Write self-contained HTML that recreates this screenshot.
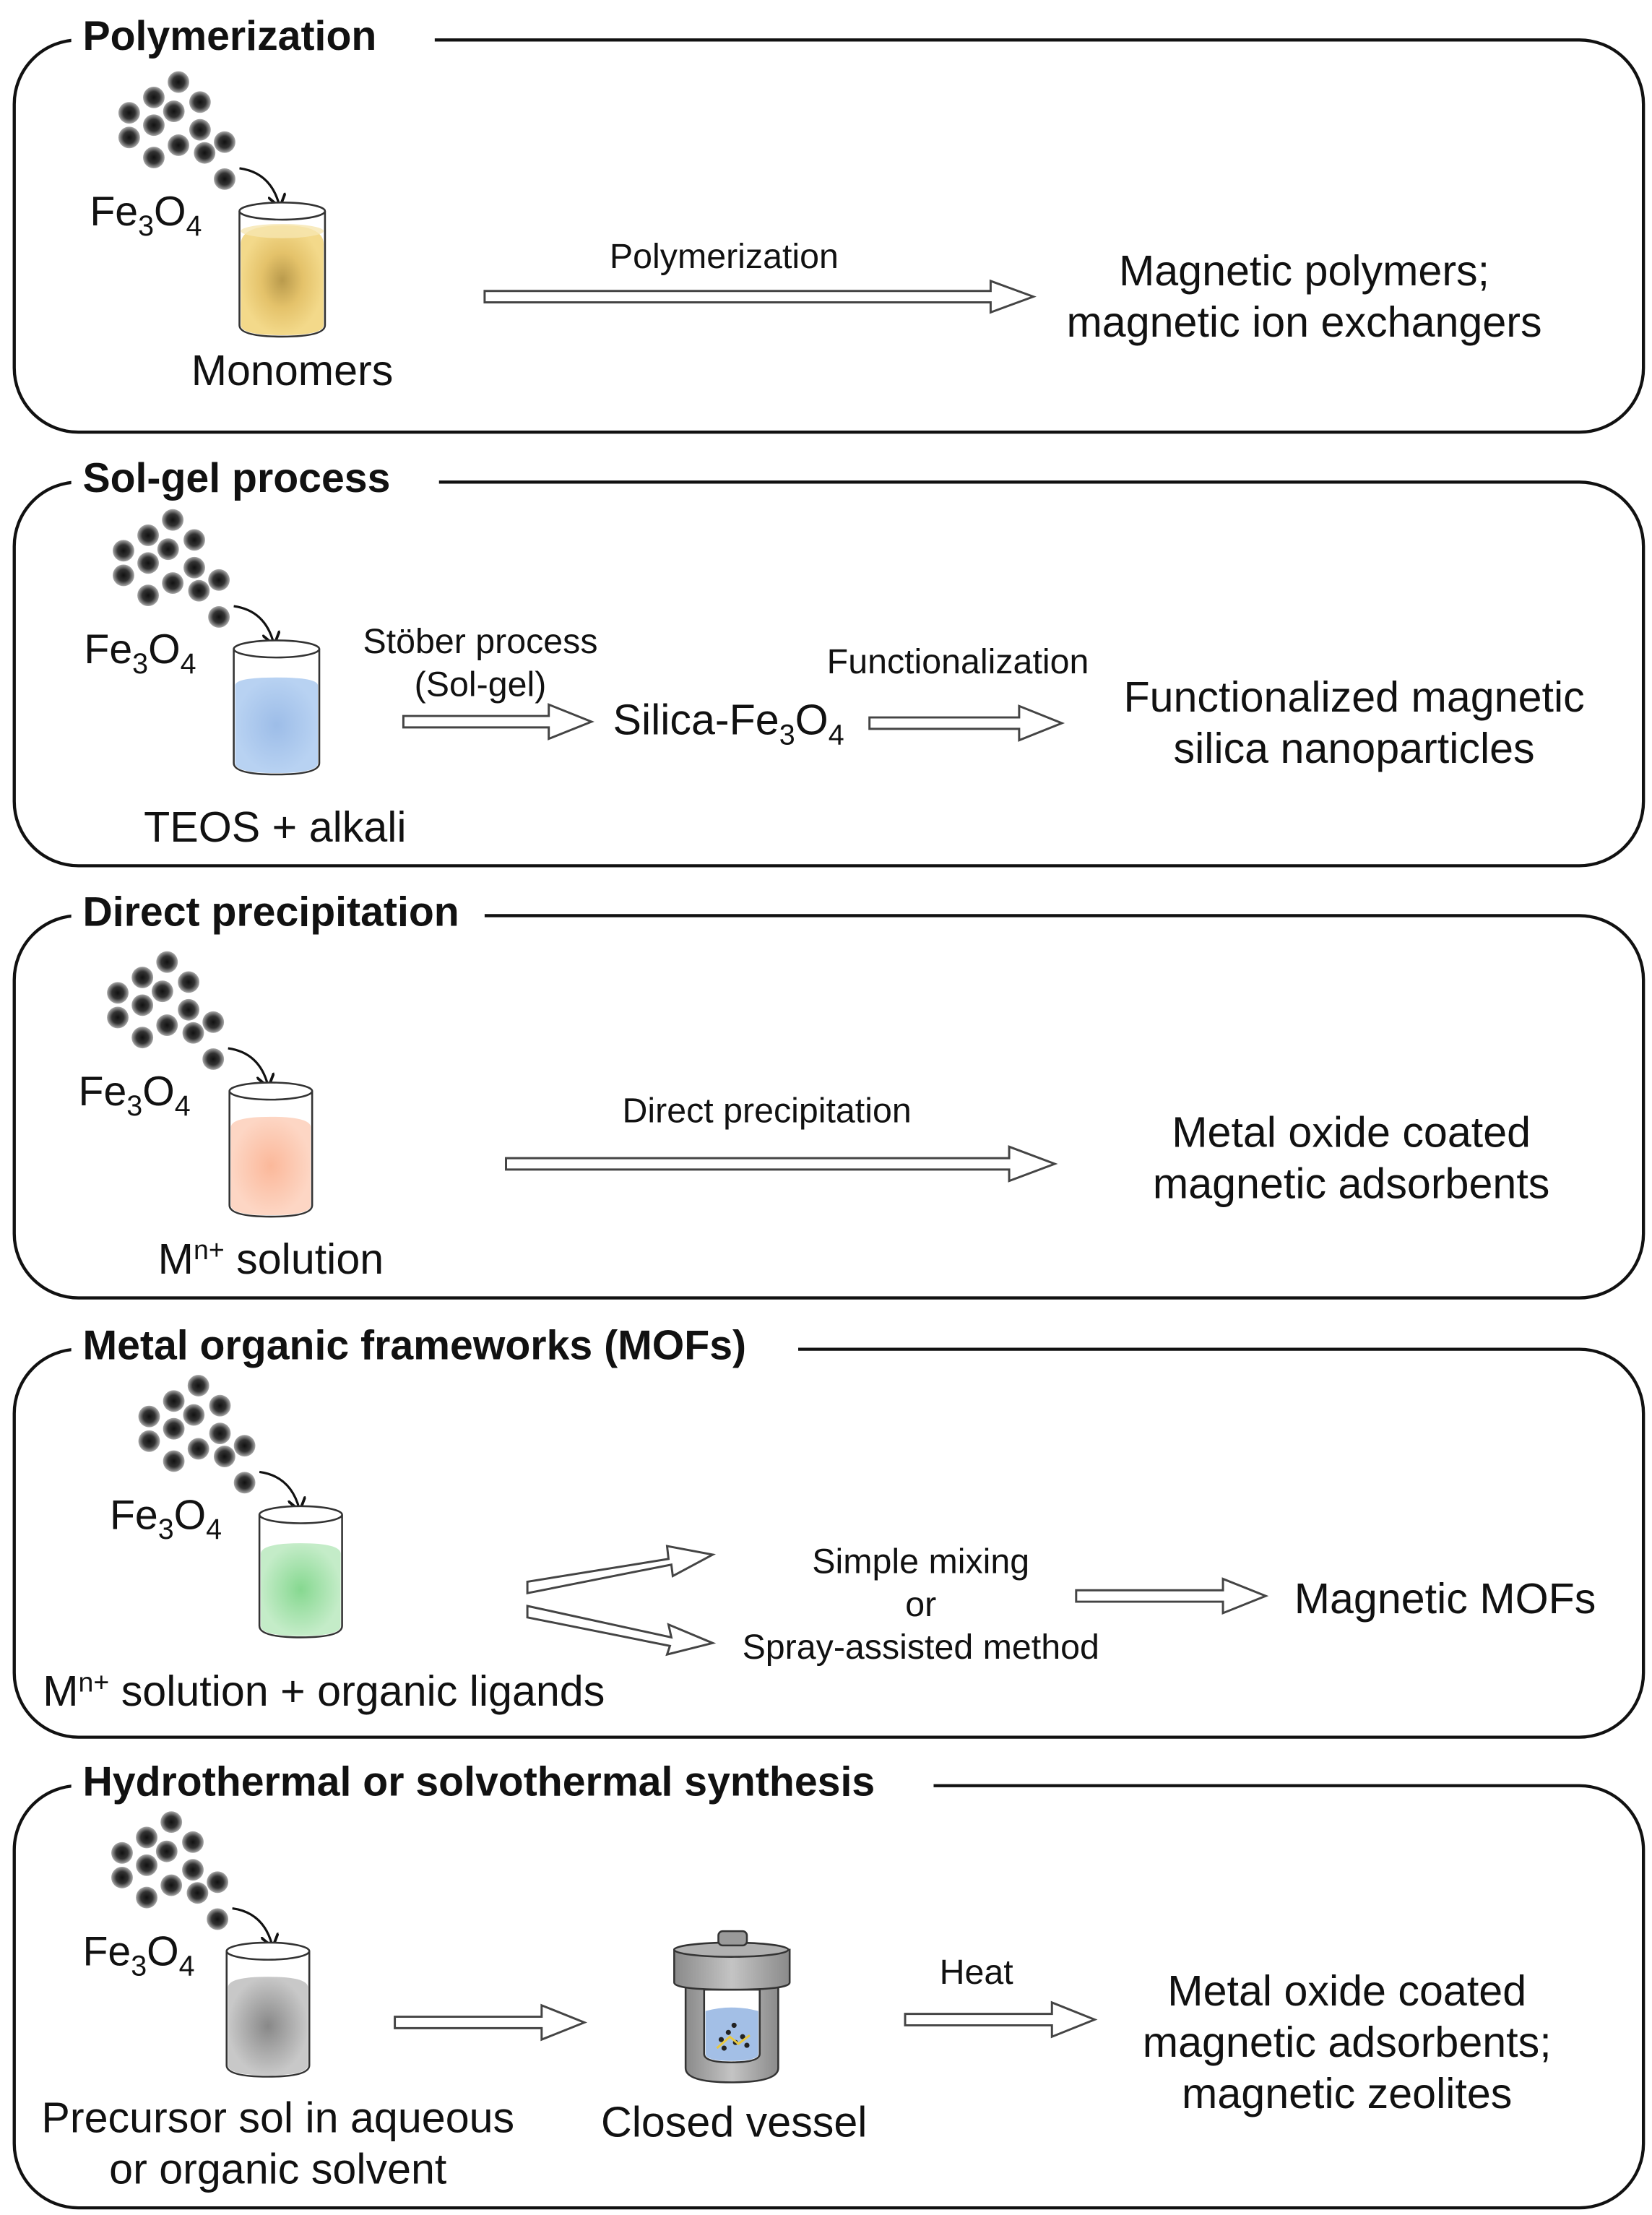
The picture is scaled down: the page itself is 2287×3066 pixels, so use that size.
<!DOCTYPE html>
<html><head><meta charset="utf-8"><style>
html,body{margin:0;padding:0;background:#fff;}
svg{display:block;}
text{font-family:"Liberation Sans",Arial,sans-serif;fill:#111;}
.t{font-weight:bold;font-size:29px;}
.l{font-size:30px;}
.s{font-size:24.5px;}
</style></head><body>
<svg width="2287" height="3066" viewBox="0 0 1159 1553" preserveAspectRatio="none" xmlns="http://www.w3.org/2000/svg">
<defs>
<radialGradient id="dot"><stop offset="0" stop-color="#111"/><stop offset="0.55" stop-color="#333"/><stop offset="1" stop-color="#aaa"/></radialGradient>
<radialGradient id="gy"><stop offset="0" stop-color="#b99a4c"/><stop offset="0.5" stop-color="#e4c26a"/><stop offset="1" stop-color="#f3d98a"/></radialGradient>
<radialGradient id="gb"><stop offset="0" stop-color="#9dbde8"/><stop offset="1" stop-color="#b8d2f2"/></radialGradient>
<radialGradient id="gp"><stop offset="0" stop-color="#fbb89a"/><stop offset="1" stop-color="#fdd6c4"/></radialGradient>
<radialGradient id="gg"><stop offset="0" stop-color="#86d890"/><stop offset="1" stop-color="#c4ecc8"/></radialGradient>
<radialGradient id="gk"><stop offset="0" stop-color="#888"/><stop offset="1" stop-color="#c8c8c8"/></radialGradient>
<linearGradient id="met" x1="0" x2="1"><stop offset="0" stop-color="#8a8a8a"/><stop offset="0.5" stop-color="#c4c4c4"/><stop offset="1" stop-color="#8a8a8a"/></linearGradient>
<marker id="ah" viewBox="0 0 10 10" refX="6" refY="5" markerWidth="8" markerHeight="8" orient="auto"><path d="M0,0 L7,5 L0,10" fill="none" stroke="#111" stroke-width="1.5"/></marker>
<g id="dots">
<g transform="translate(100,-30) scale(1.08) translate(-100,30)">
<circle cx="65" cy="-86" r="7" fill="url(#dot)"/><circle cx="49" cy="-76" r="7" fill="url(#dot)"/><circle cx="79" cy="-73" r="7" fill="url(#dot)"/>
<circle cx="33" cy="-66" r="7" fill="url(#dot)"/><circle cx="62" cy="-67" r="7" fill="url(#dot)"/><circle cx="49" cy="-58" r="7" fill="url(#dot)"/>
<circle cx="79" cy="-55" r="7" fill="url(#dot)"/><circle cx="33" cy="-50" r="7" fill="url(#dot)"/><circle cx="95" cy="-47" r="7" fill="url(#dot)"/>
<circle cx="65" cy="-45" r="7" fill="url(#dot)"/><circle cx="49" cy="-37" r="7" fill="url(#dot)"/><circle cx="82" cy="-40" r="7" fill="url(#dot)"/>
<circle cx="95" cy="-23" r="7" fill="url(#dot)"/>
</g>
<path d="M105,-30 Q127,-27 133,-4" fill="none" stroke="#111" stroke-width="1.6" marker-end="url(#ah)"/>
<text x="0" y="10" style="font-size:29px">Fe<tspan dy="7" style="font-size:20px">3</tspan><tspan dy="-7">O</tspan><tspan dy="7" style="font-size:20px">4</tspan></text>
</g>
</defs>

<g fill="none" stroke="#111" stroke-width="2.2">
<rect x="10" y="28" width="1143" height="275" rx="45"/>
<rect x="10" y="338" width="1143" height="269" rx="45"/>
<rect x="10" y="642" width="1143" height="268" rx="45"/>
<rect x="10" y="946" width="1143" height="272" rx="45"/>
<rect x="10" y="1252" width="1143" height="296" rx="45"/>
</g>
<g fill="#fff">
<rect x="50" y="10" width="255" height="30"/>
<rect x="50" y="320" width="258" height="30"/>
<rect x="50" y="624" width="290" height="30"/>
<rect x="50" y="928" width="510" height="30"/>
<rect x="50" y="1234" width="605" height="30"/>
</g>
<text class="t" x="58" y="35">Polymerization</text>
<text class="t" x="58" y="345">Sol-gel process</text>
<text class="t" x="58" y="649">Direct precipitation</text>
<text class="t" x="58" y="953">Metal organic frameworks (MOFs)</text>
<text class="t" x="58" y="1259">Hydrothermal or solvothermal synthesis</text>

<!-- Panel 1 -->
<use href="#dots" x="63" y="148"/>
<g transform="translate(168,148)">
<path d="M1,24 Q0,10 30,10 Q60,10 59,24 L59,80 Q59,87 30,87 Q1,87 1,80 Z" fill="url(#gy)"/>
<ellipse cx="30" cy="14" rx="29" ry="5" fill="#f6e6b0" opacity="0.8"/>
<path d="M0,0 L0,80 Q0,88 30,88 Q60,88 60,80 L60,0" fill="none" stroke="#333" stroke-width="1.3"/>
<ellipse cx="30" cy="0" rx="30" ry="6" fill="#fff" stroke="#333" stroke-width="1.3"/>
</g>
<text class="l" x="205" y="270" text-anchor="middle">Monomers</text>
<text class="s" x="508" y="188" text-anchor="middle">Polymerization</text>
<polygon points="340,204 695,204 695,197 725,208 695,219 695,212 340,212" fill="#fff" stroke="#444" stroke-width="1.5"/>
<text class="l" x="915" y="200" text-anchor="middle">Magnetic polymers;</text>
<text class="l" x="915" y="236" text-anchor="middle">magnetic ion exchangers</text>

<!-- Panel 2 -->
<use href="#dots" x="59" y="455"/>
<g transform="translate(164,455)">
<path d="M1,26 Q0,20 30,20 Q60,20 59,26 L59,80 Q59,87 30,87 Q1,87 1,80 Z" fill="url(#gb)"/>
<path d="M0,0 L0,80 Q0,88 30,88 Q60,88 60,80 L60,0" fill="none" stroke="#333" stroke-width="1.3"/>
<ellipse cx="30" cy="0" rx="30" ry="6" fill="#fff" stroke="#333" stroke-width="1.3"/>
</g>
<text class="l" x="193" y="590" text-anchor="middle">TEOS + alkali</text>
<text class="s" x="337" y="458" text-anchor="middle">Stöber process</text>
<text class="s" x="337" y="488" text-anchor="middle">(Sol-gel)</text>
<polygon points="283,502 385,502 385,494 415,506 385,518 385,510 283,510" fill="#fff" stroke="#444" stroke-width="1.5"/>
<text x="430" y="515" style="font-size:30px">Silica-Fe<tspan dy="7" style="font-size:20px">3</tspan><tspan dy="-7">O</tspan><tspan dy="7" style="font-size:20px">4</tspan></text>
<text class="s" x="672" y="472" text-anchor="middle">Functionalization</text>
<polygon points="610,503 715,503 715,495 745,507 715,519 715,511 610,511" fill="#fff" stroke="#444" stroke-width="1.5"/>
<text class="l" x="950" y="499" text-anchor="middle">Functionalized magnetic</text>
<text class="l" x="950" y="535" text-anchor="middle">silica nanoparticles</text>

<!-- Panel 3 -->
<use href="#dots" x="55" y="765"/>
<g transform="translate(161,765)">
<path d="M1,26 Q0,18 29,18 Q58,18 57,26 L57,80 Q57,87 29,87 Q1,87 1,80 Z" fill="url(#gp)"/>
<path d="M0,0 L0,80 Q0,88 29,88 Q58,88 58,80 L58,0" fill="none" stroke="#333" stroke-width="1.3"/>
<ellipse cx="29" cy="0" rx="29" ry="6" fill="#fff" stroke="#333" stroke-width="1.3"/>
</g>
<text class="l" x="190" y="893" text-anchor="middle">M<tspan dy="-10" style="font-size:19px">n+</tspan><tspan dy="10"> solution</tspan></text>
<text class="s" x="538" y="787" text-anchor="middle">Direct precipitation</text>
<polygon points="355,812 708,812 708,804 740,816 708,828 708,820 355,820" fill="#fff" stroke="#444" stroke-width="1.5"/>
<text class="l" x="948" y="804" text-anchor="middle">Metal oxide coated</text>
<text class="l" x="948" y="840" text-anchor="middle">magnetic adsorbents</text>

<!-- Panel 4 -->
<use href="#dots" x="77" y="1062"/>
<g transform="translate(182,1062)">
<path d="M1,28 Q0,20 29,20 Q58,20 57,28 L57,78 Q57,85 29,85 Q1,85 1,78 Z" fill="url(#gg)"/>
<path d="M0,0 L0,78 Q0,86 29,86 Q58,86 58,78 L58,0" fill="none" stroke="#333" stroke-width="1.3"/>
<ellipse cx="29" cy="0" rx="29" ry="6" fill="#fff" stroke="#333" stroke-width="1.3"/>
</g>
<text class="l" x="30" y="1196">M<tspan dy="-10" style="font-size:19px">n+</tspan><tspan dy="10"> solution + organic ligands</tspan></text>
<polygon points="370,1109 469,1093 468,1084 500,1090 472,1105 471,1097 370,1117" fill="#fff" stroke="#444" stroke-width="1.5"/>
<polygon points="370,1126 471,1148 469,1139 500,1152 468,1160 470,1154 370,1134" fill="#fff" stroke="#444" stroke-width="1.5"/>
<text class="s" x="646" y="1103" text-anchor="middle">Simple mixing</text>
<text class="s" x="646" y="1133" text-anchor="middle">or</text>
<text class="s" x="646" y="1163" text-anchor="middle">Spray-assisted method</text>
<polygon points="755,1115 858,1115 858,1107 888,1119 858,1131 858,1123 755,1123" fill="#fff" stroke="#444" stroke-width="1.5"/>
<text class="l" x="908" y="1131">Magnetic MOFs</text>

<!-- Panel 5 -->
<use href="#dots" x="58" y="1368"/>
<g transform="translate(159,1368)">
<path d="M1,26 Q0,18 29,18 Q58,18 57,26 L57,80 Q57,87 29,87 Q1,87 1,80 Z" fill="url(#gk)"/>
<path d="M0,0 L0,80 Q0,88 29,88 Q58,88 58,80 L58,0" fill="none" stroke="#333" stroke-width="1.3"/>
<ellipse cx="29" cy="0" rx="29" ry="6" fill="#fff" stroke="#333" stroke-width="1.3"/>
</g>
<text class="l" x="195" y="1495" text-anchor="middle">Precursor sol in aqueous</text>
<text class="l" x="195" y="1531" text-anchor="middle">or organic solvent</text>
<polygon points="277,1414 380,1414 380,1406 410,1418 380,1430 380,1422 277,1422" fill="#fff" stroke="#444" stroke-width="1.5"/>
<g stroke="#333" stroke-width="1.3">
<path d="M481,1393 L481,1450 Q481,1460 513,1460 Q546,1460 546,1450 L546,1393 Z" fill="url(#met)"/>
<path d="M494,1395 L494,1440 Q494,1446 513,1446 Q533,1446 533,1440 L533,1395 Z" fill="#fff"/>
<path d="M495,1410 Q513,1405 532,1410 L532,1440 Q532,1445 513,1445 Q495,1445 495,1440 Z" fill="#a3bfe6" stroke="none"/>
<path d="M473,1367 L473,1390 Q473,1395 513,1395 Q554,1395 554,1390 L554,1367 Z" fill="url(#met)"/>
<ellipse cx="513" cy="1367" rx="40" ry="5" fill="#b0b0b0"/>
<rect x="504" y="1354" width="20" height="10" rx="3" fill="#9a9a9a"/>
</g>
<g fill="#222"><circle cx="506" cy="1430" r="1.8"/><circle cx="511" cy="1425" r="1.8"/><circle cx="516" cy="1432" r="1.8"/><circle cx="521" cy="1428" r="1.8"/><circle cx="508" cy="1436" r="1.8"/><circle cx="524" cy="1434" r="1.8"/><circle cx="515" cy="1420" r="1.8"/></g>
<path d="M503,1436 L512,1428 L518,1433 L526,1427" stroke="#e8c840" stroke-width="1.5" fill="none"/>
<text class="l" x="515" y="1498" text-anchor="middle">Closed vessel</text>
<text class="s" x="685" y="1391" text-anchor="middle">Heat</text>
<polygon points="635,1412 738,1412 738,1404 768,1416 738,1428 738,1420 635,1420" fill="#fff" stroke="#444" stroke-width="1.5"/>
<text class="l" x="945" y="1406" text-anchor="middle">Metal oxide coated</text>
<text class="l" x="945" y="1442" text-anchor="middle">magnetic adsorbents;</text>
<text class="l" x="945" y="1478" text-anchor="middle">magnetic zeolites</text>
</svg>
</body></html>
